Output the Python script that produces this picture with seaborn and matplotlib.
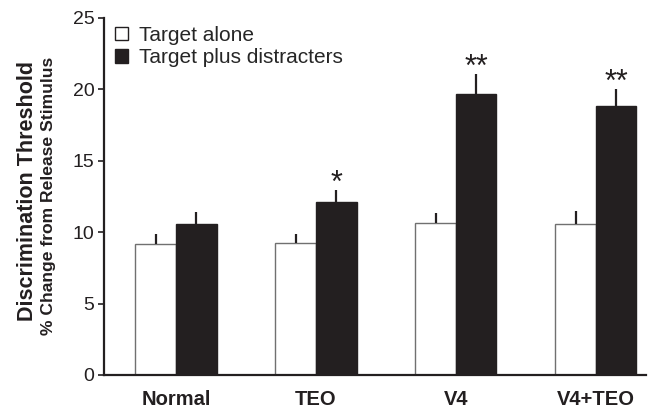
import matplotlib
matplotlib.use("Agg")
import matplotlib.pyplot as plt
import seaborn as sns
import pandas as pd
from matplotlib.patches import Patch

groups = ["Normal", "TEO", "V4", "V4+TEO"]
series = ["Target alone", "Target plus distracters"]
alone_vals = [9.2, 9.25, 10.65, 10.6]
alone_err = [0.7, 0.65, 0.67, 0.88]
distr_vals = [10.6, 12.1, 19.65, 18.85]
distr_err = [0.8, 0.85, 1.4, 1.17]
stars = ["", "*", "**", "**"]

sns.set_theme(style="white")
plt.rcParams['font.family'] = ['Liberation Sans', 'DejaVu Sans']

df = pd.DataFrame({
    "group": groups * 2,
    "series": [series[0]] * 4 + [series[1]] * 4,
    "value": alone_vals + distr_vals,
})

fig = plt.figure(figsize=(6.55, 4.08), dpi=100)
ax = fig.add_axes([0.159, 0.081, 0.828, 0.875])

black = "#231f20"
sns.barplot(data=df, x="group", y="value", hue="series", order=groups,
            hue_order=series, palette=["white", black], width=0.58,
            errorbar=None, ax=ax, legend=False, saturation=1)

patches = [p for p in ax.patches if p.get_height() > 0]
patches.sort(key=lambda p: p.get_x())
vals = []
errs = []
for i in range(4):
    vals += [alone_vals[i], distr_vals[i]]
    errs += [alone_err[i], distr_err[i]]
for k, p in enumerate(patches):
    if k % 2 == 0:
        p.set_edgecolor("#707070")
        p.set_linewidth(1.0)
    else:
        p.set_edgecolor(black)
        p.set_linewidth(1.0)
    xc = p.get_x() + p.get_width() / 2
    ax.errorbar([xc], [vals[k]], yerr=[[0], [errs[k]]], fmt="none",
                ecolor=black, elinewidth=1.6, capsize=0, zorder=1)
    if k % 2 == 1 and stars[k // 2]:
        ax.text(xc, vals[k] + errs[k] + 0.45, stars[k // 2], ha="center",
                va="center", fontsize=22, color=black)

ax.set_ylim(0, 25)
ax.set_yticks([0, 5, 10, 15, 20, 25])
ax.set_xlim(-0.514, 3.362)
ax.tick_params(axis="y", direction="out", length=4, width=1.2, labelsize=14,
               colors=black, left=True, pad=3)
ax.tick_params(axis="x", length=0, labelsize=14.5, pad=11)
for lab in ax.get_xticklabels():
    lab.set_fontweight("bold")
    lab.set_color(black)
ax.set_xlabel("")
ax.set_ylabel("")
sns.despine(ax=ax)
for s in ["left", "bottom"]:
    ax.spines[s].set_color(black)
    ax.spines[s].set_linewidth(1.6)

fig.text(0.042, 0.532, "Discrimination Threshold", rotation=90, ha="center",
         va="center", fontsize=15.5, fontweight="bold", color=black)
fig.text(0.0735, 0.52, "% Change from Release Stimulus", rotation=90,
         ha="center", va="center", fontsize=12.6, fontweight="bold", color=black)

handles = [Patch(facecolor="white", edgecolor=black, linewidth=1.0),
           Patch(facecolor=black, edgecolor=black)]
ax.legend(handles, series, loc="upper left", bbox_to_anchor=(0.0203, 0.977),
          frameon=False, fontsize=15, handlelength=0.6, handleheight=0.6,
          handletextpad=0.55, labelspacing=0.15, borderaxespad=0, borderpad=0)

fig.savefig("out.png", dpi=100)
